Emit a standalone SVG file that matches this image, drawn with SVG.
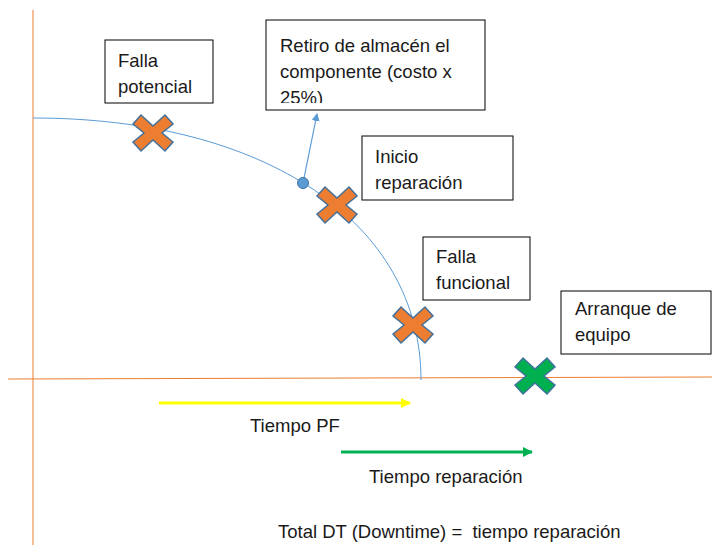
<svg xmlns="http://www.w3.org/2000/svg" width="712" height="545" viewBox="0 0 712 545">
<style>
text{font-family:"Liberation Sans",Arial,sans-serif;font-size:18.5px;fill:#1a1a1a;white-space:pre}
.box{fill:#fff;stroke:#000;stroke-width:1}
.xo{fill:#ED7D31;stroke:#41719C;stroke-width:1.5}
.xg{fill:#00B050;stroke:#41719C;stroke-width:1.5}
.ax{stroke:#ED7D31;stroke-width:1;fill:none}
</style>
<defs>
<polygon id="xs" points="-20,-9 -12,-18 0,-7 12,-18 20,-9 9,0 20,9 12,18 0,7 -12,18 -20,9 -9,0"/>
<marker id="ab" markerWidth="8" markerHeight="8" refX="7" refY="4" orient="auto" markerUnits="userSpaceOnUse"><path d="M0,0 L8,4 L0,8 Z" fill="#5B9BD5"/></marker>
<marker id="ay" markerWidth="10" markerHeight="10" refX="9" refY="5" orient="auto" markerUnits="userSpaceOnUse"><path d="M0,0 L10,5 L0,10 Z" fill="#FFFF00"/></marker>
<marker id="ag" markerWidth="10" markerHeight="10" refX="9" refY="5" orient="auto" markerUnits="userSpaceOnUse"><path d="M0,0 L10,5 L0,10 Z" fill="#00B050"/></marker>
<clipPath id="clipR"><rect x="266" y="20" width="219" height="83"/></clipPath>
</defs>
<g id="axes">
<line class="ax" x1="33" y1="10" x2="33" y2="545"/>
<line class="ax" x1="8" y1="379" x2="712" y2="377"/>
</g>
<g id="connectors">
<path d="M33,118 C266,118 421,223 421,380" fill="none" stroke="#5B9BD5" stroke-width="1"/>
<line x1="303" y1="183" x2="317" y2="114" stroke="#5B9BD5" stroke-width="1.2" marker-end="url(#ab)"/>
<line x1="159" y1="403" x2="410" y2="403" stroke="#FFFF00" stroke-width="3" marker-end="url(#ay)"/>
<line x1="341" y1="452" x2="532" y2="452" stroke="#00B050" stroke-width="3" marker-end="url(#ag)"/>
</g>
<g id="dot"><circle cx="303" cy="183" r="5.5" fill="#5B9BD5" stroke="#41719C" stroke-width="1"/></g>
<g id="x1"><use href="#xs" class="xo" x="153" y="133"/></g>
<g id="x2"><use href="#xs" class="xo" x="337" y="205"/></g>
<g id="x3"><use href="#xs" class="xo" x="413" y="325"/></g>
<g id="x4"><use href="#xs" class="xg" x="535" y="376"/></g>
<g id="falla-potencial">
<rect class="box" x="105" y="40" width="108" height="63"/>
<text x="118" y="67">Falla</text>
<text x="118" y="93">potencial</text>
</g>
<g id="retiro">
<rect class="box" x="266" y="20" width="219" height="90"/>
<g clip-path="url(#clipR)">
<text x="280" y="52">Retiro de almacén el</text>
<text x="280" y="78">componente (costo x</text>
<text x="280" y="104">25%)</text>
</g>
</g>
<g id="inicio">
<rect class="box" x="362" y="136" width="151" height="64"/>
<text x="375" y="163">Inicio</text>
<text x="375" y="189">reparación</text>
</g>
<g id="falla-funcional">
<rect class="box" x="423" y="237" width="107" height="63"/>
<text x="436" y="263">Falla</text>
<text x="436" y="289">funcional</text>
</g>
<g id="arranque">
<rect class="box" x="561" y="291" width="150" height="63"/>
<text x="575" y="315">Arranque de</text>
<text x="575" y="341">equipo</text>
</g>
<g id="labels">
<text x="250" y="432">Tiempo PF</text>
<text x="369" y="483">Tiempo reparación</text>
<text x="278" y="538">Total DT (Downtime) =  tiempo reparación</text>
</g>
</svg>
